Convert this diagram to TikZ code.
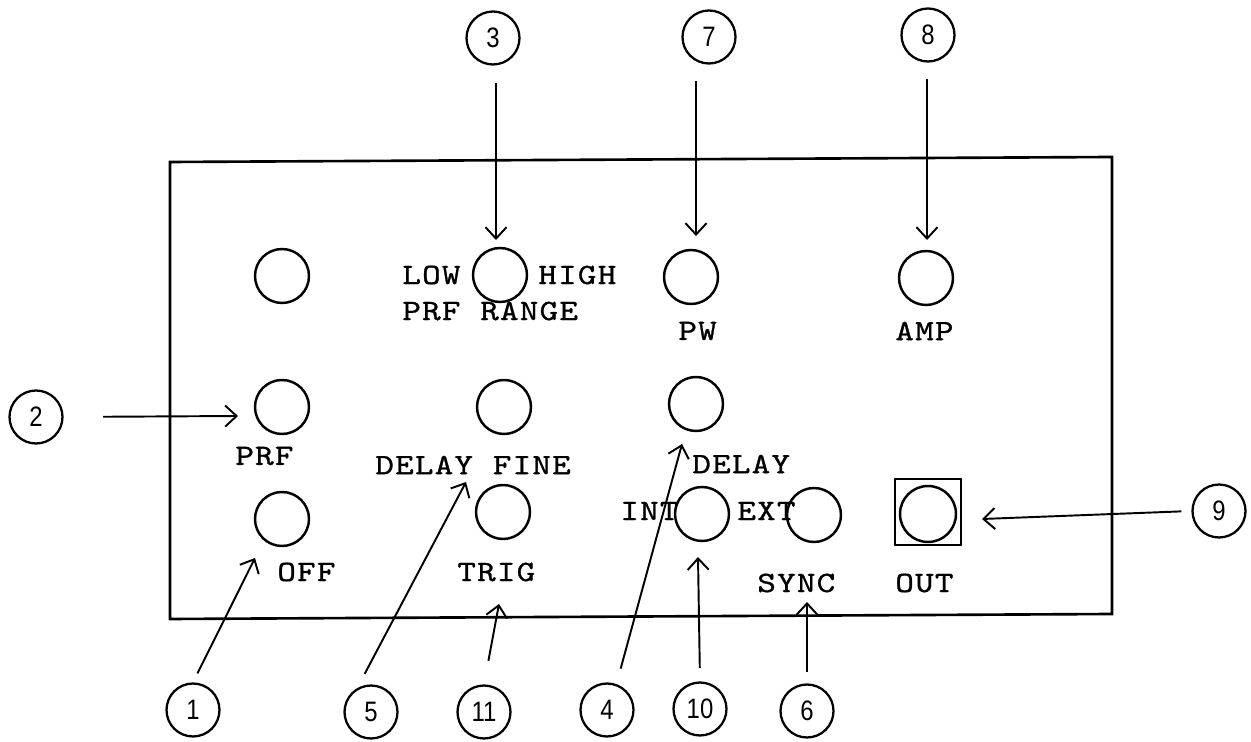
\documentclass[tikz,border=0pt]{standalone}
\usepackage{fontspec}
\newfontfamily\numfam{Liberation Sans}[FakeStretch=0.85]
\newfontfamily\twfam{lmmono10-regular.otf}[FakeStretch=1.2,LetterSpace=4,FakeBold=1]
\usetikzlibrary{arrows.meta}
\newcommand{\lblfont}{\twfam\fontsize{16.8pt}{20pt}\selectfont}
\newcommand{\numfont}{\numfam\fontsize{16pt}{18pt}\selectfont}
\begin{document}
\begin{tikzpicture}[x=0.02cm,y=-0.02cm,
  knob/.style={circle,draw,line width=1.4pt,minimum size=1.08cm,inner sep=0pt},
  num/.style={circle,draw,line width=1.3pt,minimum size=1.06cm,inner sep=0pt,font=\numfont},
  lbl/.style={anchor=west,inner sep=0pt,font=\lblfont},
  arr/.style={-{Straight Barb[length=6.5pt,width=12pt]},line width=1.1pt},
  panel/.style={line width=1.5pt}]
\useasboundingbox (0,0) rectangle (1251,742);
% panel
\draw[panel] (170,162) -- (1112,157) -- (1112,614) -- (170,619) -- cycle;
% knobs
\node[knob] (k1) at (282,276) {};
\node[knob] (k2) at (500,275) {};
\node[knob] (k3) at (691,277) {};
\node[knob] (k4) at (926,278) {};
\node[knob] (k5) at (282,407) {};
\node[knob] (k6) at (504,407) {};
\node[knob] (k7) at (696,404) {};
\node[knob] (k8) at (282,519) {};
\node[knob] (k9) at (503,512) {};
\node[knob] (k10) at (702,514) {};
\node[knob] (k11) at (814,515) {};
\node[draw,line width=1.3pt,minimum size=1.32cm,inner sep=0pt] (outbox) at (928,512) {};
\node[knob,minimum size=1.12cm] (k12) at (928,514) {};
% labels
\node[lbl] (tlow) at (402,275) {LOW};
\node[lbl] (thigh) at (538,275) {HIGH};
\node[lbl] (trange) at (402,311) {PRF RANGE};
\node[lbl] (tpw) at (678,331) {PW};
\node[lbl] (tamp) at (895,331) {AMP};
\node[lbl] (tprf) at (235,456) {PRF};
\node[lbl] (tdf) at (375,465) {DELAY FINE};
\node[lbl] (toff) at (277,572) {OFF};
\node[lbl] (ttrig) at (457,572) {TRIG};
\node[lbl] (tdelay) at (692,464) {DELAY};
\node[lbl] (tint) at (620,511) {INT};
\node[lbl] (text) at (737,511) {EXT};
\node[lbl] (tsync) at (757,583) {SYNC};
\node[lbl] (tout) at (895,583) {OUT};
% numbered callouts
\node[num] (n1) at (193,710) {1};
\node[num] (n2) at (36,417) {2};
\node[num] (n3) at (493,38) {3};
\node[num] (n4) at (607,710) {4};
\node[num] (n5) at (371,712) {5};
\node[num] (n6) at (807,711) {6};
\node[num] (n7) at (709,37) {7};
\node[num] (n8) at (928,35) {8};
\node[num] (n9) at (1219,511) {9};
\node[num] (n10) at (700,709) {10};
\node[num] (n11) at (484,712) {11};
% arrow tips
\coordinate (t1) at (255,558);
\coordinate (t2) at (238,416);
\coordinate (t3) at (496,240);
\coordinate (t4) at (682,444);
\coordinate (t5) at (466,482);
\coordinate (t6) at (807,602);
\coordinate (t7) at (696,236);
\coordinate (t8) at (927,240);
\coordinate (t9) at (982,519);
\coordinate (t10) at (698,557);
\coordinate (t11) at (499,604);
% connectors
\draw[arr,shorten <=0.35cm] (n3.south -| t3) -- (t3);
\draw[arr,shorten <=0.33cm] (n7.south -| t7) -- (t7);
\draw[arr,shorten <=0.33cm] (n8.south -| t8) -- (t8);
\draw[arr,shorten <=0.79cm] (n2.east) -- (t2);
\draw[arr,shorten <=0.2cm] (n9.west) -- (t9);
\draw[arr,shorten <=0.2cm] (n1.north) -- (t1);
\draw[arr,shorten <=0.32cm] (n5.120) -- (t5);
\draw[arr,shorten <=0.48cm] (n11.north) -- (t11);
\draw[arr,shorten <=0.32cm] (n4.70) -- (t4);
\draw[arr,shorten <=0.27cm] (n10.north) -- (t10);
\draw[arr,shorten <=0.23cm] (n6.north) -- (t6);
\end{tikzpicture}
\end{document}
